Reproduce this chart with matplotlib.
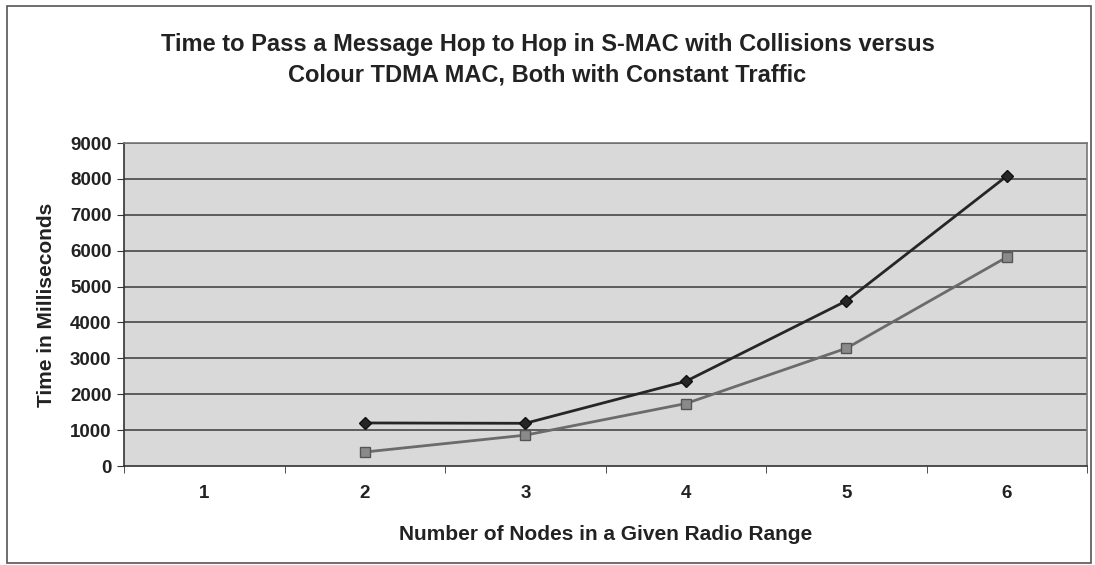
import numpy as np
import matplotlib.pyplot as plt
from matplotlib.patches import Rectangle

plt.rcParams['font.family'] = ['Liberation Sans', 'DejaVu Sans']

# ---------------------------------------------------
nodes = [1, 2, 3, 4, 5, 6]
smac_x = [2, 3, 4, 5, 6]
smac_ms = [1200, 1190, 2360, 4600, 8080]
tdma_x = [2, 3, 4, 5, 6]
tdma_ms = [390, 860, 1740, 3280, 5820]
yticks = list(range(0, 9001, 1000))
# ---------------------------------------------------

fig = plt.figure(figsize=(10.95, 5.65), dpi=100)
fig.patches.append(Rectangle((0.006, 0.004), 0.99, 0.985, transform=fig.transFigure,
                             fill=False, edgecolor='#555555', linewidth=1.2))

ax = fig.add_axes([0.1133, 0.1752, 0.8795, 0.5717])
ax.set_facecolor('#d9d9d9')

for y in yticks[1:]:
    ax.axhline(y, color='#3a3a3a', linewidth=1.1, zorder=1)

ax.plot(smac_x, smac_ms, color='#262626', linewidth=2, marker='D', markersize=6,
        markerfacecolor='#262626', markeredgecolor='#111111', zorder=3)
ax.plot(tdma_x, tdma_ms, color='#6b6b6b', linewidth=2, marker='s', markersize=7,
        markerfacecolor='#8a8a8a', markeredgecolor='#555555', zorder=3)

ax.set_xlim(0.5, 6.5)
ax.set_ylim(0, 9000)
ax.set_yticks(yticks)
ax.set_xticks(nodes)
ax.set_xticks(np.arange(0.5, 6.6, 1), minor=True)
ax.tick_params(axis='x', which='major', length=0, pad=14, labelsize=13.5)
ax.tick_params(axis='x', which='minor', length=5, color='#333333')
ax.tick_params(axis='y', length=5, labelsize=13.5, color='#333333', pad=4)
for lab in ax.get_xticklabels() + ax.get_yticklabels():
    lab.set_fontweight('bold')
    lab.set_color('#222222')

for side in ['left', 'bottom', 'right', 'top']:
    ax.spines[side].set_color('#333333')
    ax.spines[side].set_linewidth(1.2)
ax.spines['top'].set_color('#777777')
ax.spines['right'].set_color('#777777')

ax.set_xlabel("Number of Nodes in a Given Radio Range", fontsize=15, fontweight='bold',
              labelpad=16, color='#222222')
ax.set_ylabel("Time in Milliseconds", fontsize=15, fontweight='bold', labelpad=10,
              color='#222222')
fig.text(0.5, 0.894, "Time to Pass a Message Hop to Hop in S-MAC with Collisions versus\n"
         "Colour TDMA MAC, Both with Constant Traffic", ha='center', va='center',
         fontsize=17, fontweight='bold', color='#222222', linespacing=1.45)

fig.savefig("out.png", dpi=100)
